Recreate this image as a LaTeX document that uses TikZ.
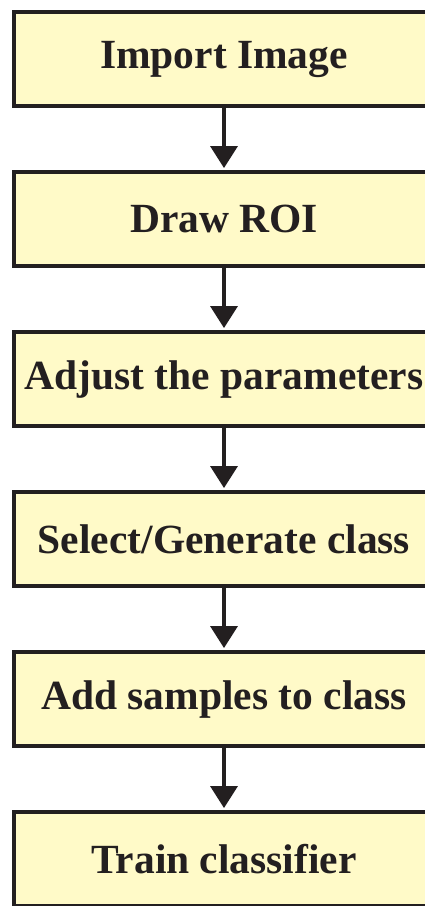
\documentclass[tikz,border=0pt]{standalone}
\usepackage{fontspec}
\setmainfont{Liberation Serif}
\usetikzlibrary{arrows.meta,positioning}

\definecolor{stepfill}{RGB}{255,250,200}
\definecolor{stepline}{RGB}{35,31,32}

\tikzset{
  stage/.style={draw=stepline,fill=stepfill,line width=4pt,
    minimum width=420pt,minimum height=94pt,inner sep=0pt,
    font=\fontsize{41.5}{48}\selectfont\bfseries,text=stepline}
}

\begin{document}
\begin{tikzpicture}[->,>={Triangle[length=22pt,width=27pt]},
    color=stepline,line width=3.5pt,x=1pt,y=1pt]
\useasboundingbox (0,0) rectangle (424,-906);
\matrix[row sep=62pt,inner sep=0pt,anchor=north] at (224,-8.3) {
  \node[stage] (import) {Import Image};             \\
  \node[stage] (roi)    {Draw ROI};                 \\
  \node[stage] (params) {Adjust the parameters};    \\
  \node[stage] (class)  {Select/Generate class};    \\
  \node[stage] (sample) {Add samples to class};     \\
  \node[stage] (train)  {Train classifier};         \\
  };

  \path[shorten >=2pt]
        (import) edge (roi)
        (roi)    edge (params)
        (params) edge (class)
        (class)  edge (sample)
        (sample) edge (train);

\end{tikzpicture}
\end{document}
